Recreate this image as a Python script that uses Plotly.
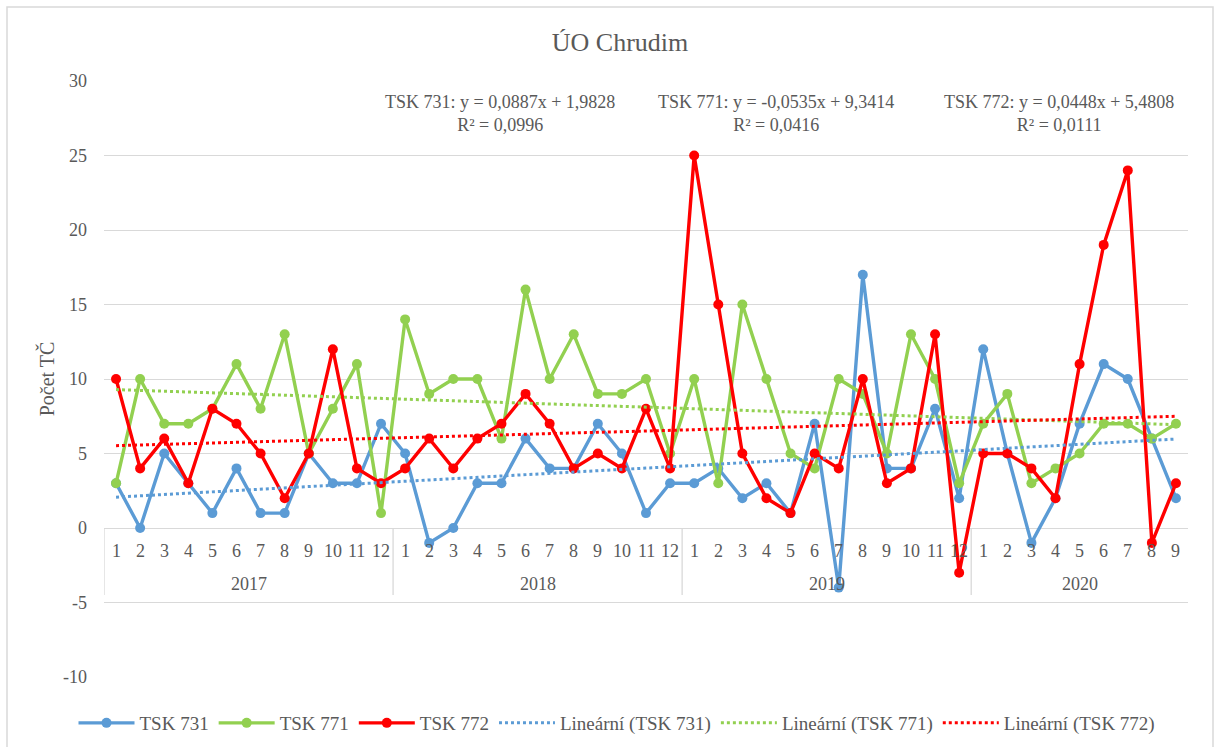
import numpy as np
import plotly.graph_objects as go

years = ["2017", "2018", "2019", "2020"]
months_per_year = [12, 12, 12, 9]
month_labels = [str(m) for n in months_per_year for m in range(1, n + 1)]

tsk731 = [3, 0, 5, 3, 1, 4, 1, 1, 5, 3, 3, 7,
          5, -1, 0, 3, 3, 6, 4, 4, 7, 5, 1, 3,
          3, 4, 2, 3, 1, 7, -4, 17, 4, 4, 8, 2,
          12, 5, -1, 2, 7, 11, 10, 6, 2]
tsk771 = [3, 10, 7, 7, 8, 11, 8, 13, 5, 8, 11, 1,
          14, 9, 10, 10, 6, 16, 10, 13, 9, 9, 10, 5,
          10, 3, 15, 10, 5, 4, 10, 9, 5, 13, 10, 3,
          7, 9, 3, 4, 5, 7, 7, 6, 7]
tsk772 = [10, 4, 6, 3, 8, 7, 5, 2, 5, 12, 4, 3,
          4, 6, 4, 6, 7, 9, 7, 4, 5, 4, 8, 4,
          25, 15, 5, 2, 1, 5, 4, 10, 3, 4, 13, -3,
          5, 5, 4, 2, 11, 19, 24, -1, 3]

y_ticks = [-10, -5, 0, 5, 10, 15, 20, 25, 30]
y_tick_labels = ["-10", "-5", "0", "5", "10", "15", "20", "25", "30"]

series_names = ["TSK 731", "TSK 771", "TSK 772"]
series_values = [tsk731, tsk771, tsk772]
colors = ["#5B9BD5", "#92D050", "#FF0000"]
equations = ["TSK 731: y = 0,0887x + 1,9828<br>R² = 0,0996",
             "TSK 771: y = -0,0535x + 9,3414<br>R² = 0,0416",
             "TSK 772: y = 0,0448x + 5,4808<br>R² = 0,0111"]

FONT = "Liberation Serif"
GRAY = "#595959"
GRID = "#D9D9D9"

# plot area in pixels
L, R, T, B = 104, 1188, 81, 677
W, H = 1222, 747
def px(xp):
    return (xp - L) / (R - L)
def py(yp):
    return (B - yp) / (B - T)

x = np.arange(1, len(month_labels) + 1)

fig = go.Figure()
for name, vals, c in zip(series_names, series_values, colors):
    fig.add_trace(go.Scatter(x=x, y=vals, mode="lines+markers", name=name,
                             line=dict(color=c, width=3.4),
                             marker=dict(color=c, size=10)))
for name, vals, c in zip(series_names, series_values, colors):
    k, q = np.polyfit(x, np.array(vals, dtype=float), 1)
    fig.add_trace(go.Scatter(x=x, y=k * x + q, mode="lines",
                             name=f"Lineární ({name})",
                             line=dict(color=c, width=3, dash="dot")))

annotations = []
for i, lab in enumerate(month_labels):
    annotations.append(dict(x=i + 1, y=0, xref="x", yref="y", text=lab,
                            showarrow=False, yanchor="middle", yshift=-23,
                            font=dict(family=FONT, size=18, color=GRAY)))
start = 0
shapes = []
for yr, n in zip(years, months_per_year):
    annotations.append(dict(x=start + (n + 1) / 2, y=0, xref="x", yref="y",
                            text=yr, showarrow=False, yanchor="middle",
                            yshift=-56,
                            font=dict(family=FONT, size=18, color=GRAY)))
    shapes.append(dict(type="line", xref="x", yref="y", x0=start + 0.5,
                       x1=start + 0.5, y0=0, y1=-4.5,
                       line=dict(color=GRID, width=1.3)))
    start += n

eq_x = [500, 776, 1059]
for ex, txt in zip(eq_x, equations):
    annotations.append(dict(x=px(ex), y=py(113), xref="paper", yref="paper",
                            text=txt, showarrow=False, xanchor="center",
                            yanchor="middle", align="center",
                            font=dict(family=FONT, size=18, color=GRAY)))

shapes.append(dict(type="rect", xref="paper", yref="paper",
                   x0=px(7), x1=px(1213), y0=py(760), y1=py(7),
                   line=dict(color=GRID, width=1.5), layer="below"))

fig.update_layout(
    width=W, height=H,
    margin=dict(l=L, r=W - R, t=T, b=H - B, autoexpand=False),
    paper_bgcolor="white", plot_bgcolor="white",
    title=dict(text="ÚO Chrudim", x=620 / W, xref="container", xanchor="center",
               y=1 - 42 / H, yref="container", yanchor="middle",
               font=dict(family=FONT, size=26, color=GRAY)),
    xaxis=dict(range=[0.5, len(month_labels) + 0.5], showticklabels=False,
               showgrid=False, zeroline=False, showline=False, ticks=""),
    yaxis=dict(range=[-10, 30], tickvals=y_ticks, ticktext=y_tick_labels,
               showgrid=True,
               gridcolor=GRID, gridwidth=1.3, zeroline=False, showline=False,
               ticks="", ticklabelstandoff=16,
               tickfont=dict(family=FONT, size=18, color=GRAY),
               title=dict(text="Počet TČ", standoff=3,
                          font=dict(family=FONT, size=20, color=GRAY))),
    legend=dict(orientation="h", x=px(617), xanchor="center", y=py(723),
                yanchor="middle", font=dict(family=FONT, size=19, color=GRAY),
                bgcolor="rgba(0,0,0,0)", itemwidth=56),
    showlegend=True,
    annotations=annotations,
    shapes=shapes,
)

fig.write_html("out.html", config={"displayModeBar": False},
               post_script="document.body.style.margin='0';document.body.style.overflow='hidden';")
